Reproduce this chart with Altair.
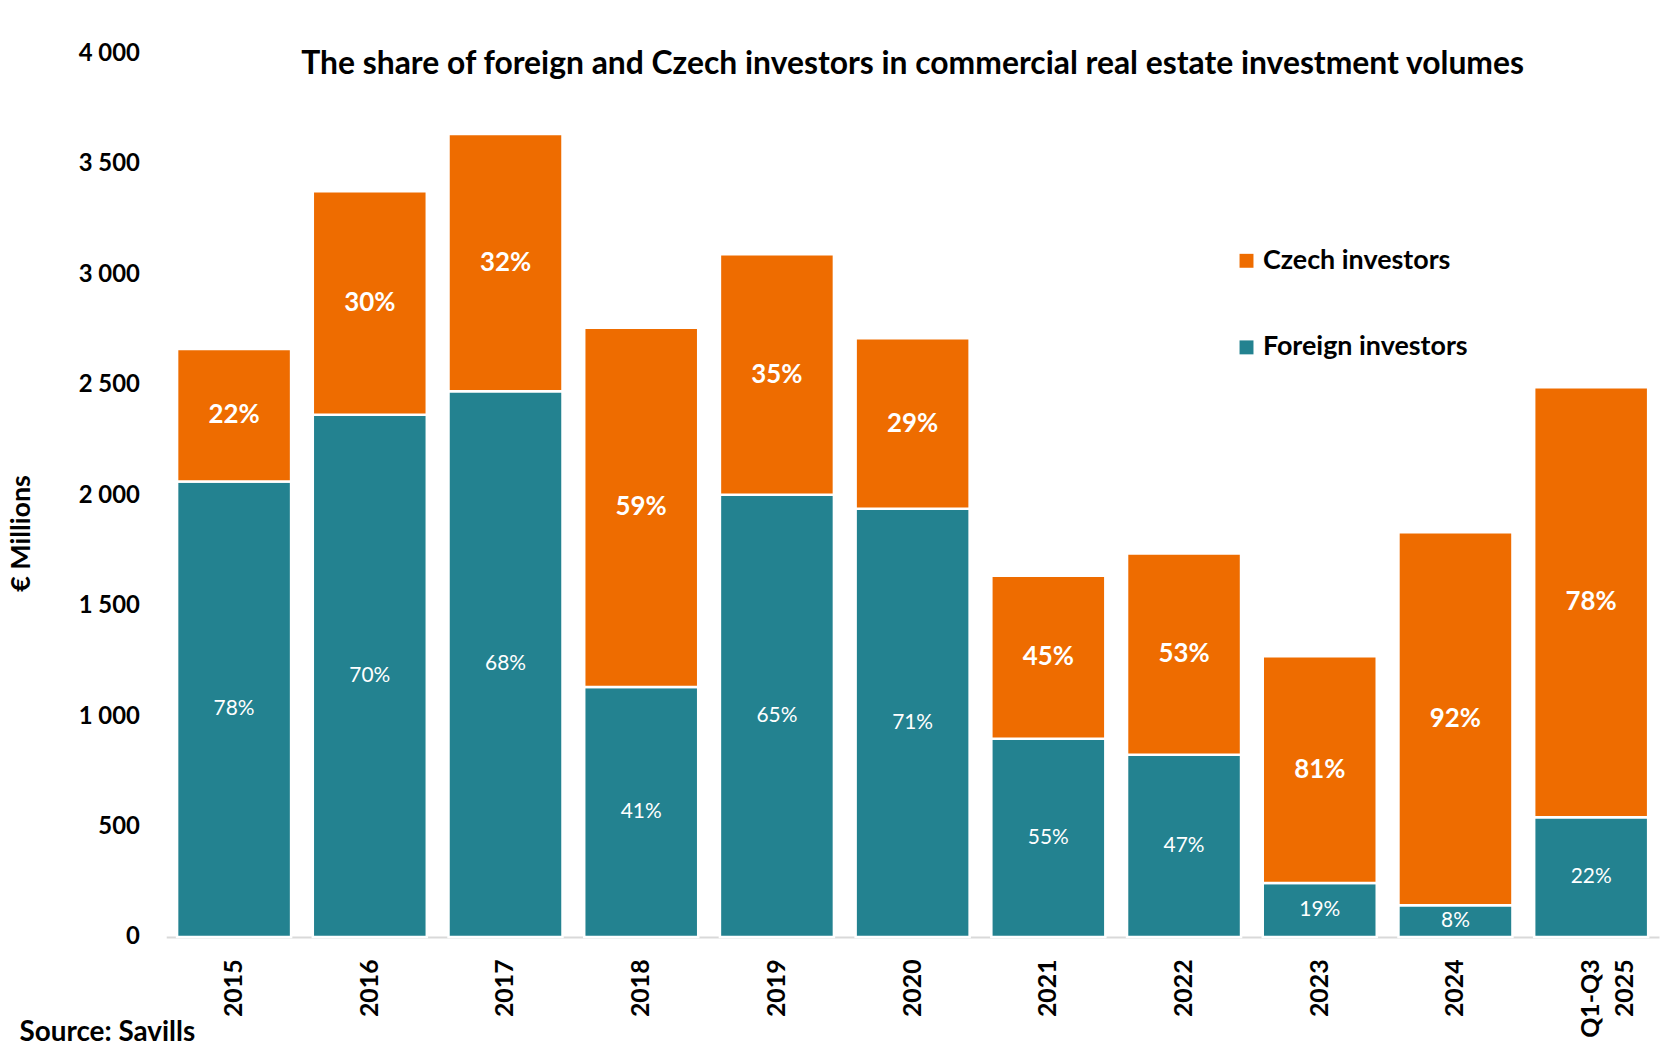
import altair as alt
import pandas as pd

categories = ["2015", "2016", "2017", "2018", "2019", "2020", "2021", "2022", "2023", "2024", "Q1-Q3 2025"]
foreign = [2062, 2364, 2470, 1132, 2002, 1938, 897, 825, 245, 144, 542]
czech = [600, 1012, 1165, 1626, 1088, 772, 738, 911, 1026, 1688, 1947]
foreign_pct = ["78%", "70%", "68%", "41%", "65%", "71%", "55%", "47%", "19%", "8%", "22%"]
czech_pct = ["22%", "30%", "32%", "59%", "35%", "29%", "45%", "53%", "81%", "92%", "78%"]

series = ["Czech investors", "Foreign investors"]
colors = ["#EE6C00", "#238290"]

rows = []
for i, c in enumerate(categories):
    f = foreign[i]
    z = czech[i]
    rows.append({"cat": c, "series": "Foreign investors", "lo": 0, "hi": f,
                 "mid": f / 2, "label": foreign_pct[i], "order": 1})
    rows.append({"cat": c, "series": "Czech investors", "lo": f, "hi": f + z,
                 "mid": f + z / 2, "label": czech_pct[i], "order": 2})
df = pd.DataFrame(rows)

FONT = "Lato"

x_enc = alt.X(
    "cat:N", sort=categories,
    scale=alt.Scale(paddingInner=0.16, paddingOuter=0.08),
    axis=alt.Axis(
        title="Source: Savills", titleX=-148, titleY=96, titleAlign="left",
        titleBaseline="middle", titleFont=FONT, titleFontSize=28, titleFontWeight="bold",
        titleColor="#000000",
        labelAngle=270, labelFont=FONT, labelFontWeight="bold", labelFontSize=25,
        labelColor="#000000", labelPadding=22, labelExpr="split(datum.label, ' ')",
        labelLineHeight=34,
        ticks=False, domainColor="#D9D9D9", domainWidth=2, grid=False,
    ),
)

bars = alt.Chart(df).mark_bar(stroke="white", strokeWidth=2.5).encode(
    x=x_enc,
    y=alt.Y(
        "lo:Q",
        scale=alt.Scale(domain=[0, 4000], nice=False),
        axis=alt.Axis(
            title="€ Millions", titleX=-145, titleY=482, titleAngle=270,
            titleAlign="center", titleBaseline="middle",
            titleFont=FONT, titleFontSize=27, titleFontWeight="bold", titleColor="#000000",
            values=[0, 500, 1000, 1500, 2000, 2500, 3000, 3500, 4000],
            labelExpr="replace(format(datum.value, ','), ',', ' ')",
            labelFont=FONT, labelFontSize=24, labelFontWeight="bold", labelColor="#000000",
            labelPadding=27, ticks=False, domain=False, grid=False,
        ),
    ),
    y2="hi:Q",
    color=alt.Color(
        "series:N",
        scale=alt.Scale(domain=series, range=colors),
        legend=alt.Legend(
            title=None, orient="none", legendX=1072, legendY=195,
            symbolType="square", symbolSize=196, symbolStrokeWidth=0,
            labelFont=FONT, labelFontSize=27, labelFontWeight="bold", labelColor="#000000",
            rowPadding=59, labelOffset=3, padding=0, labelLimit=500,
        ),
    ),
)

czech_text = alt.Chart(df).transform_filter(
    alt.datum.series == "Czech investors"
).mark_text(color="white", font=FONT, fontSize=26, fontWeight="bold", baseline="middle").encode(
    x=alt.X("cat:N", sort=categories),
    y=alt.Y("mid:Q"),
    text="label:N",
)

foreign_text = alt.Chart(df).transform_filter(
    alt.datum.series == "Foreign investors"
).mark_text(color="white", font=FONT, fontSize=21, fontWeight="normal", baseline="middle").encode(
    x=alt.X("cat:N", sort=categories),
    y=alt.Y("mid:Q"),
    text="label:N",
)

chart = alt.layer(bars, czech_text, foreign_text).properties(
    width=1500,
    height=888,
    autosize=alt.AutoSizeParams(type="none"),
    padding={"left": 159, "top": 43, "right": 3, "bottom": 113},
    background="white",
    title=alt.TitleParams(
        "The share of foreign and Czech investors in commercial real estate investment volumes",
        font=FONT, fontSize=32, fontWeight="bold", color="#000000",
        anchor="middle", baseline="middle", offset=0, dy=55,
    ),
).configure_view(strokeWidth=0)

chart.save("out.html", embed_options={"renderer": "svg", "actions": False})
